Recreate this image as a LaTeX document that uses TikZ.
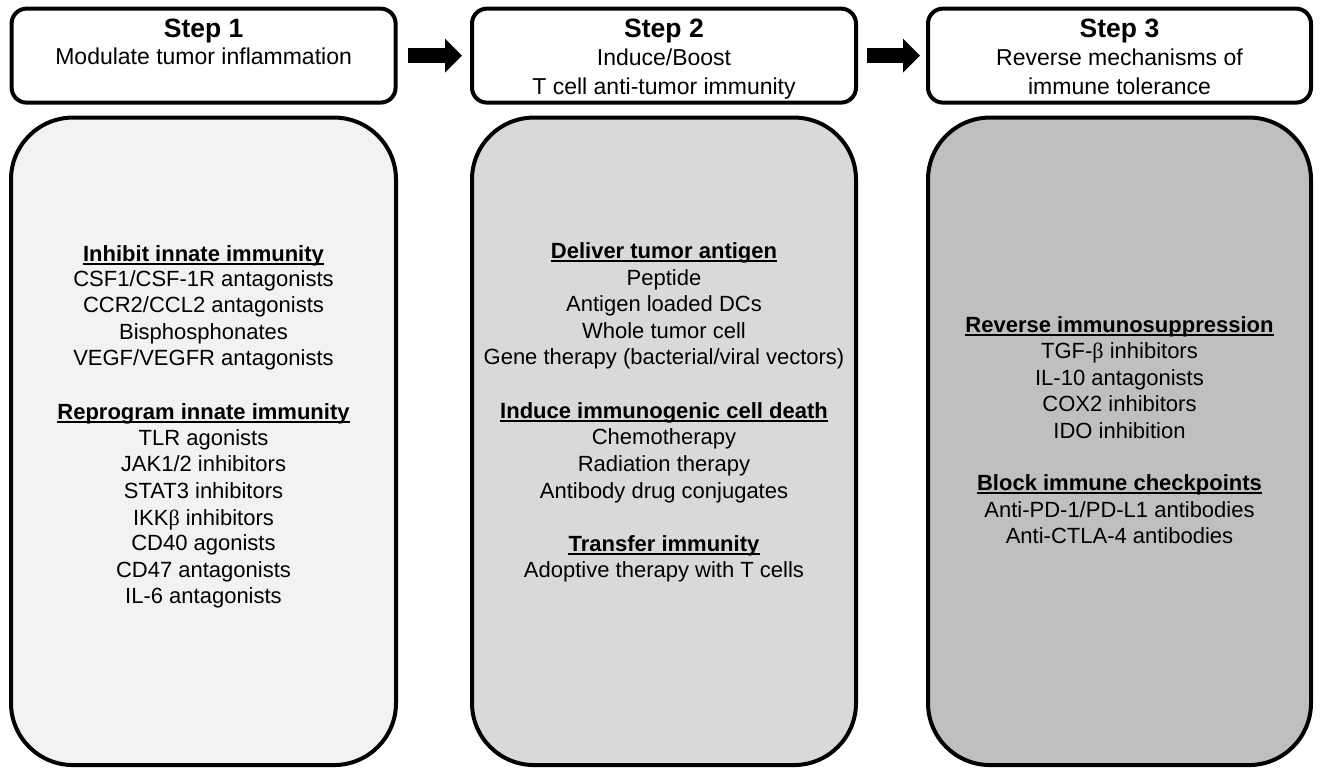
\documentclass[tikz,border=0pt]{standalone}
\usepackage{fontspec}
\setmainfont{Liberation Sans}
\newfontfamily\symgreek{Liberation Serif}
\usetikzlibrary{arrows.meta}
\newcommand\myulhead[4]{%
  \node[head] (#1) at (#2,#3) {#4};
  \draw[line width=1.8pt] ([yshift=-2.6pt]#1.base west) -- ([yshift=-2.6pt]#1.base east);
}
\newcommand\mybeta{{\symgreek β}}
\begin{document}
\begin{tikzpicture}[x=1pt,y=-1pt,
  hdr/.style={draw=black, line width=4pt, rounded corners=15pt, fill=white, minimum height=94pt, inner sep=0pt},
  panel/.style={draw=black, line width=4pt, rounded corners=62pt, minimum height=647.5pt, inner sep=0pt},
  txt/.style={anchor=base, inner sep=0pt, font=\fontsize{22}{26}\selectfont},
  head/.style={anchor=base, inner sep=0pt, font=\fontsize{22}{26}\selectfont\bfseries},
  ttl/.style={anchor=base, inner sep=0pt, font=\fontsize{26.5}{30}\selectfont\bfseries},
  sub/.style={anchor=base, inner sep=0pt, font=\fontsize{23}{28}\selectfont},
  blockarrow/.style={line width=15pt, -{Triangle[length=17pt,width=33pt]}},
]
\useasboundingbox (0,0) rectangle (1320,768);

% header boxes
\node[hdr, minimum width=384pt] (h1) at (203.6,55.6) {};
\node[hdr, minimum width=384pt] (h2) at (664,55.6) {};
\node[hdr, minimum width=383pt] (h3) at (1119.5,55.6) {};

% panels
\node[panel, minimum width=385pt, fill={rgb,255:red,242;green,242;blue,242}] (p1) at (203.5,441.3) {};
\node[panel, minimum width=384pt, fill={rgb,255:red,217;green,217;blue,217}] (p2) at (664,441.3) {};
\node[panel, minimum width=383pt, fill={rgb,255:red,191;green,191;blue,191}] (p3) at (1119.5,441.3) {};

% arrows
\draw[blockarrow] ([xshift=10pt]h1.east) -- ([xshift=-8pt]h2.west);
\draw[blockarrow] ([xshift=9pt]h2.east) -- ([xshift=-6pt]h3.west);

% header texts
\node[ttl] (t1) at (203.6,38) {Step 1};
\node[sub] (s1) at (203.6,65) {Modulate tumor inflammation};
\node[ttl] (t2) at (664,38) {Step 2};
\node[sub] (s2a) at (664,66) {Induce/Boost};
\node[sub] (s2b) at (664,95) {T cell anti-tumor immunity};
\node[ttl] (t3) at (1119.5,38) {Step 3};
\node[sub] (s3a) at (1119.5,66) {Reverse mechanisms of};
\node[sub] (s3b) at (1119.5,95) {immune tolerance};

% panel 1
\myulhead{g1a}{203.5}{261.7}{Inhibit innate immunity}
\foreach \y/\t [count=\i] in {286.7/{CSF1/CSF-1R antagonists}, 312.7/{CCR2/CCL2 antagonists}, 339.3/{Bisphosphonates}, 365/{VEGF/VEGFR antagonists}}
  \node[txt] (a\i) at (203.5,\y) {\t};
\myulhead{g1b}{203.5}{419.3}{Reprogram innate immunity}
\foreach \y/\t [count=\i] in {445/{TLR agonists}, 471.7/{JAK1/2 inhibitors}, 498.3/{STAT3 inhibitors}, 525/{IKK\mybeta\ inhibitors}, 550.7/{CD40 agonists}, 577.3/{CD47 antagonists}, 603.3/{IL-6 antagonists}}
  \node[txt] (b\i) at (203.5,\y) {\t};

% panel 2
\myulhead{g2a}{664}{258.5}{Deliver tumor antigen}
\foreach \y/\t [count=\i] in {285/{Peptide}, 311.5/{Antigen loaded DCs}, 338/{Whole tumor cell}, 364.5/{Gene therapy (bacterial/viral vectors)}}
  \node[txt] (c\i) at (664,\y) {\t};
\myulhead{g2b}{664}{418}{Induce immunogenic cell death}
\foreach \y/\t [count=\i] in {444.7/{Chemotherapy}, 471.3/{Radiation therapy}, 498/{Antibody drug conjugates}}
  \node[txt] (d\i) at (664,\y) {\t};
\myulhead{g2c}{664}{551}{Transfer immunity}
\node[txt] (e1) at (664,577.5) {Adoptive therapy with T cells};

% panel 3
\myulhead{g3a}{1119.5}{332}{Reverse immunosuppression}
\foreach \y/\t [count=\i] in {358.5/{TGF-\mybeta\ inhibitors}, 385/{IL-10 antagonists}, 411.5/{COX2 inhibitors}, 438/{IDO inhibition}}
  \node[txt] (f\i) at (1119.5,\y) {\t};
\myulhead{g3b}{1119.5}{490.5}{Block immune checkpoints}
\foreach \y/\t [count=\i] in {517/{Anti-PD-1/PD-L1 antibodies}, 543.5/{Anti-CTLA-4 antibodies}}
  \node[txt] (g\i) at (1119.5,\y) {\t};
\end{tikzpicture}
\end{document}
